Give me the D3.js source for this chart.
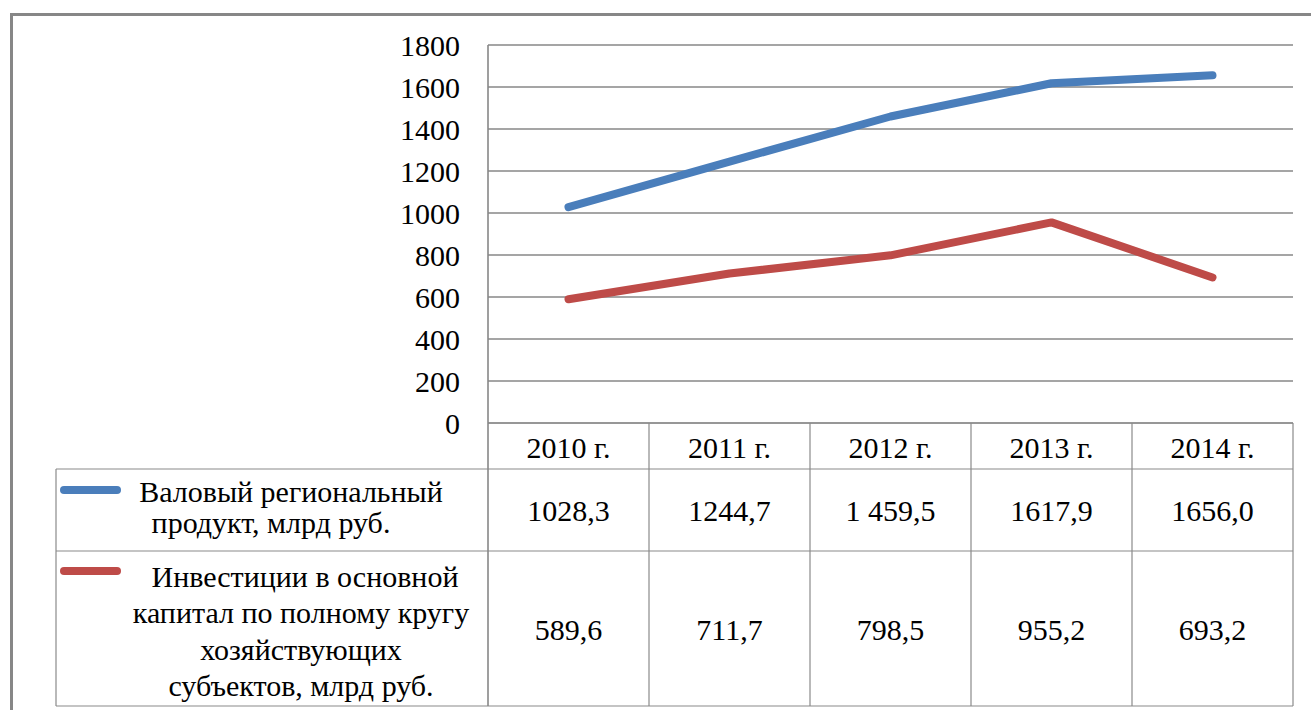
<!DOCTYPE html>
<html>
<head>
<meta charset="utf-8">
<script src="https://cdn.jsdelivr.net/npm/d3@7"></script>
<style>
  body { margin: 0; background: #fff; }
  svg { display: block; }
  svg text { font-family: "Liberation Serif", "DejaVu Serif", serif; }
</style>
</head>
<body>
<div class="chart"></div>
<script>
// data
const years = ["2010 г.", "2011 г.", "2012 г.", "2013 г.", "2014 г."];
const gdp = [1028.3, 1244.7, 1459.5, 1617.9, 1656.0];
const invest = [589.6, 711.7, 798.5, 955.2, 693.2];
const gdpLabels = ["1028,3", "1244,7", "1 459,5", "1617,9", "1656,0"];
const investLabels = ["589,6", "711,7", "798,5", "955,2", "693,2"];
const yTicks = [0, 200, 400, 600, 800, 1000, 1200, 1400, 1600, 1800];
const gdpName = ["Валовый региональный", "продукт, млрд руб."];
const investName = ["Инвестиции в основной", "капитал по полному кругу", "хозяйствующих", "субъектов, млрд руб."];

const W = 1311, H = 710;
const font = '"Liberation Serif", "DejaVu Serif", serif';
const gridColor = "#878787";
const blue = "#4a7ebb", red = "#be4b48";

const svg = d3.select(".chart")
  .append("svg")
  .attr("width", W)
  .attr("height", H);

// outer frame (only top and left visible)
svg.append("path")
  .attr("d", `M11.5,${H} L11.5,14.5 L${W},14.5`)
  .attr("fill", "none")
  .attr("stroke", gridColor)
  .attr("stroke-width", 3);

const x = d3.scaleBand()
  .domain(years)
  .range([488, 1293])
  .padding(0);

const y = d3.scaleLinear()
  .domain([0, 1800])
  .range([423, 45]);

const cx = d => x(d) + x.bandwidth() / 2;

// gridlines
svg.append("g")
  .selectAll("line")
  .data(yTicks)
  .join("line")
  .attr("x1", 488)
  .attr("x2", 1293)
  .attr("y1", d => y(d))
  .attr("y2", d => y(d))
  .attr("stroke", gridColor)
  .attr("stroke-width", 1.6);

// y axis with labels
const yAxis = svg.append("g")
  .attr("transform", "translate(488,0)")
  .call(d3.axisLeft(y).tickValues(yTicks).tickFormat(d => d).tickSize(0).tickPadding(28));
yAxis.attr("font-family", null);
yAxis.select(".domain").remove();
yAxis.selectAll("text")
  .style("font-family", font)
  .style("font-size", "30px")
  .attr("fill", "#000")
  .attr("dy", "0.34em");

// table rows
const rowTop = [423, 469, 551, 706];
const tableStroke = "#8a8a8a";
const tbl = svg.append("g")
  .attr("fill", "none")
  .attr("stroke", tableStroke)
  .attr("stroke-width", 1.2);

// horizontal lines of the table
tbl.append("line").attr("x1", 488).attr("x2", 1293).attr("y1", rowTop[0]).attr("y2", rowTop[0]);
[rowTop[1], rowTop[2], rowTop[3]].forEach(yy => {
  tbl.append("line").attr("x1", 56).attr("x2", 1293).attr("y1", yy).attr("y2", yy);
});
// vertical lines
tbl.append("line").attr("x1", 56).attr("x2", 56).attr("y1", rowTop[1]).attr("y2", rowTop[3]);
tbl.append("line").attr("x1", 488).attr("x2", 488).attr("y1", 45).attr("y2", rowTop[3])
  .attr("stroke", gridColor).attr("stroke-width", 1.6);
years.forEach(d => {
  tbl.append("line")
    .attr("x1", x(d) + x.bandwidth()).attr("x2", x(d) + x.bandwidth())
    .attr("y1", rowTop[0]).attr("y2", rowTop[3]);
});

// header and value cells
const textStyle = sel => sel
  .style("font-family", font)
  .style("font-size", "30px")
  .attr("fill", "#000")
  .attr("text-anchor", "middle")
  .attr("dy", "0.35em");

svg.append("g").selectAll("text")
  .data(years)
  .join("text")
  .attr("x", d => cx(d))
  .attr("y", 447)
  .text(d => d)
  .call(textStyle);

svg.append("g").selectAll("text")
  .data(gdpLabels)
  .join("text")
  .attr("x", (d, i) => cx(years[i]))
  .attr("y", 510)
  .text(d => d)
  .call(textStyle);

svg.append("g").selectAll("text")
  .data(investLabels)
  .join("text")
  .attr("x", (d, i) => cx(years[i]))
  .attr("y", 629)
  .text(d => d)
  .call(textStyle);

// legend keys
svg.append("line")
  .attr("x1", 64).attr("x2", 117).attr("y1", 490).attr("y2", 490)
  .attr("stroke", blue).attr("stroke-width", 8).attr("stroke-linecap", "round");
svg.append("line")
  .attr("x1", 64).attr("x2", 117).attr("y1", 571).attr("y2", 571)
  .attr("stroke", red).attr("stroke-width", 8).attr("stroke-linecap", "round");

// row labels
svg.append("g").selectAll("text")
  .data(gdpName)
  .join("text")
  .attr("x", (d, i) => i === 0 ? 291 : 271)
  .attr("y", (d, i) => 491 + i * 31)
  .text(d => d)
  .call(textStyle);

svg.append("g").selectAll("text")
  .data(investName)
  .join("text")
  .attr("x", (d, i) => i === 0 ? 305 : 301)
  .attr("y", (d, i) => 576 + i * 36.5)
  .text(d => d)
  .call(textStyle);

// series lines
const line = d3.line()
  .x((d, i) => cx(years[i]))
  .y(d => y(d));

svg.append("path")
  .datum(gdp)
  .attr("d", line)
  .attr("fill", "none")
  .attr("stroke", blue)
  .attr("stroke-width", 8)
  .attr("stroke-linecap", "round")
  .attr("stroke-linejoin", "round");

svg.append("path")
  .datum(invest)
  .attr("d", line)
  .attr("fill", "none")
  .attr("stroke", red)
  .attr("stroke-width", 8)
  .attr("stroke-linecap", "round")
  .attr("stroke-linejoin", "round");
</script>
</body>
</html>
